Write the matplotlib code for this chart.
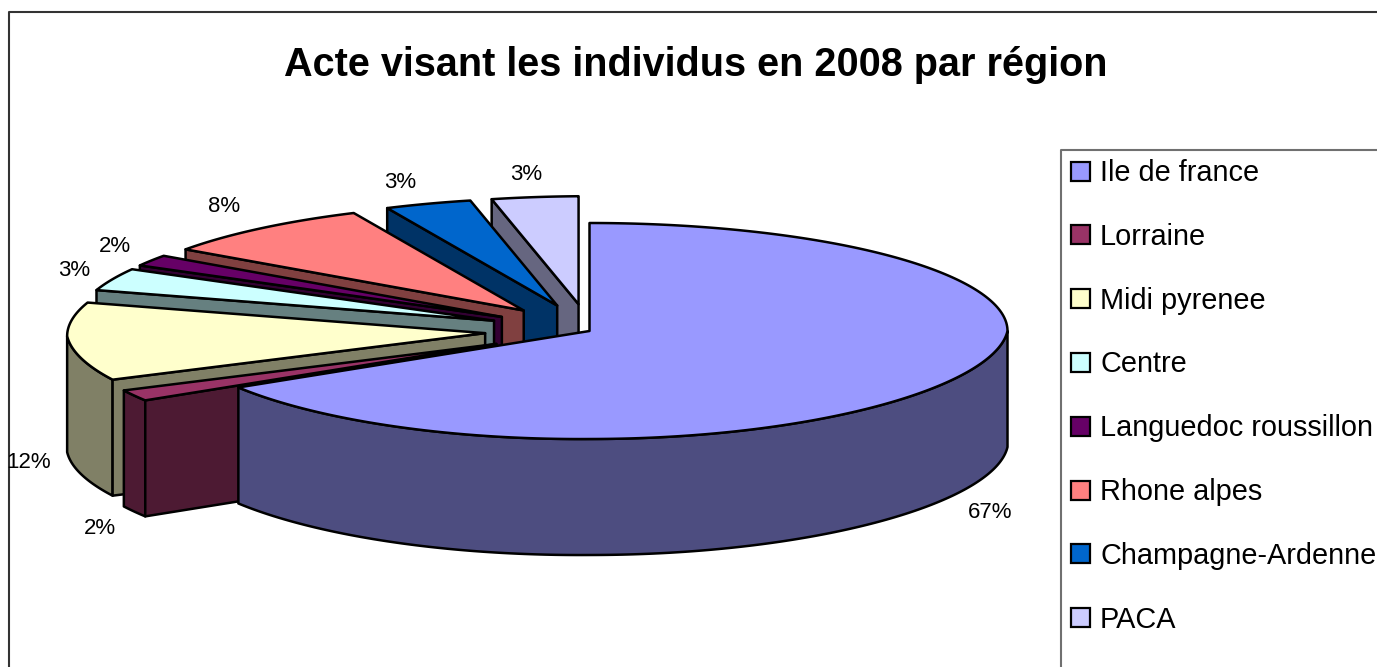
import numpy as np
import matplotlib
matplotlib.use("Agg")
import matplotlib.pyplot as plt
from matplotlib.patches import Polygon, Rectangle

plt.rcParams['font.family'] = ['Liberation Sans', 'DejaVu Sans']

# ---- data ----
regions = ["Ile de france", "Lorraine", "Midi pyrenee", "Centre",
           "Languedoc roussillon", "Rhone alpes", "Champagne-Ardenne", "PACA"]
counts = [40, 1, 7, 2, 1, 5, 2, 2]
title = "Acte visant les individus en 2008 par région"

# ---- style / layout ----
colors = ["#9999FF", "#993366", "#FFFFCC", "#CCFFFF",
          "#660066", "#FF8080", "#0066CC", "#CCCCFF"]
explode = [0, .25, .25, .25, .25, .25, .25, .25]
CX, CY, RX, RY, DEPTH = 589.5, 331.0, 418.0, 108.0, 116.0
FRONT_NARROW = 0.06
LEFT_TILT = 0.007
LW = 1.8
label_pos = [(990, 513), (100, 528), (29, 462), (74, 271),
             (115, 246), (224, 206), (400, 182), (526, 175)]

W, H = 1377, 667
fig = plt.figure(figsize=(W / 100, H / 100), dpi=100, facecolor="white")
ax = fig.add_axes([0, 0, 1, 1])
ax.set_xlim(0, W)
ax.set_ylim(H, 0)
ax.axis("off")


def tilt(x):
    """Slight downward drift of the left side of the 3D view."""
    return LEFT_TILT * np.maximum(CX - np.asarray(x), 0)


def rim(theta, apex):
    """Projected rim point; theta in radians clockwise from 12 o'clock."""
    theta = np.asarray(theta)
    squeeze = 1 + FRONT_NARROW * np.minimum(np.cos(theta), 0)
    x = apex[0] + RX * np.sin(theta) * squeeze
    return x, apex[1] - RY * np.cos(theta) + tilt(x)


def darker(c):
    r = matplotlib.colors.to_rgb(c)
    return tuple(v * 0.5 for v in r)


total = sum(counts)
edges = np.cumsum([0] + counts) / total * 2 * np.pi
edge_kw = dict(edgecolor="black", linewidth=LW, joinstyle="round")

# Frame
ax.plot([9, 9, W + 5], [H + 5, 12, 12], color="#333333", lw=1.5, zorder=1)

# Slices, back to front (list order reversed)
z = 2
for i in range(len(counts) - 1, -1, -1):
    a, b = edges[i], edges[i + 1]
    mid = (a + b) / 2
    ax_x = CX + explode[i] * RX * np.sin(mid)
    apex = (ax_x, CY - explode[i] * RY * np.cos(mid))
    apex_top = (ax_x, apex[1] + tilt(ax_x))
    dark = darker(colors[i])

    # outer wall: part of the arc that faces the viewer
    lo, hi = max(a, np.pi / 2), min(b, 3 * np.pi / 2)
    if hi > lo:
        t = np.linspace(lo, hi, 200)
        x, y = rim(t, apex)
        poly = np.r_[np.c_[x, y], np.c_[x[::-1], y[::-1] + DEPTH]]
        ax.add_patch(Polygon(poly, closed=True, facecolor=dark, zorder=z, **edge_kw))
        z += 1

    # radial cut faces
    for ang, visible in ((a, np.sin(a) < -1e-6), (b, np.sin(b) > 1e-6)):
        if visible:
            x, y = rim(ang, apex)
            poly = [apex_top, (x, y), (x, y + DEPTH), (apex_top[0], apex_top[1] + DEPTH)]
            ax.add_patch(Polygon(poly, closed=True, facecolor=dark, zorder=z, **edge_kw))
            z += 1

    # top face
    t = np.linspace(a, b, 300)
    x, y = rim(t, apex)
    poly = np.r_[[apex_top], np.c_[x, y]]
    ax.add_patch(Polygon(poly, closed=True, facecolor=colors[i], zorder=z, **edge_kw))
    z += 1

# Percent labels
for n, (lx, ly) in zip(counts, label_pos):
    ax.text(lx, ly, f"{round(100 * n / total)}%", ha="center", va="center",
            fontsize=16, color="black", zorder=z)

# Title
ax.text(696, 65, title, ha="center", va="center", fontsize=28.55,
        fontweight="bold", color="black", zorder=z)

# Legend
ax.plot([1061, 1061, W + 5], [H + 5, 150, 150], color="#707070", lw=1.5, zorder=z)
for i, name in enumerate(regions):
    yc = 171 + 63.8 * i
    ax.add_patch(Rectangle((1070.5, yc - 9.5), 19, 19, facecolor=colors[i],
                           edgecolor="black", linewidth=1.6, zorder=z))
    ax.text(1100, yc - 1, name, ha="left", va="center_baseline", fontsize=20.8,
            color="black", zorder=z)

fig.savefig("out.png", dpi=100, facecolor="white")
